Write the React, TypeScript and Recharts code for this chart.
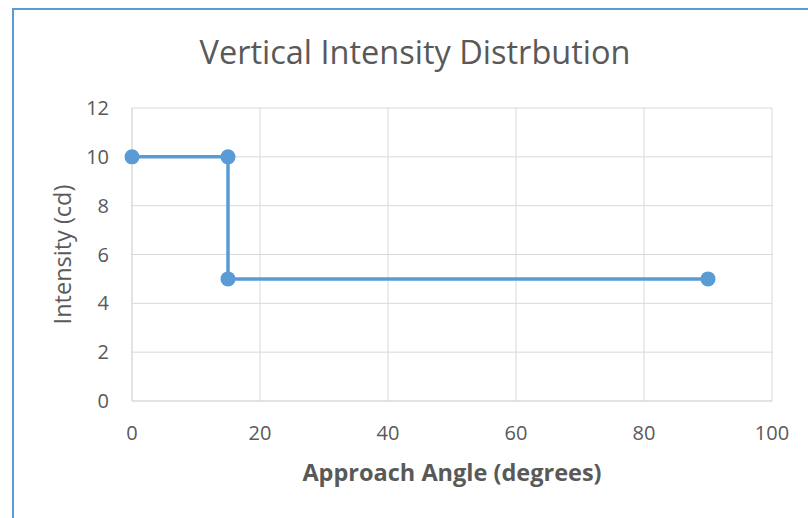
import { CartesianGrid, Label, Scatter, ScatterChart, XAxis, YAxis } from "recharts";

const angles = [0, 15, 15, 90];
const intensities = [10, 10, 5, 5];
const xTicks = [0, 20, 40, 60, 80, 100];
const yTicks = [0, 2, 4, 6, 8, 10, 12];

const data = angles.map((a, i) => ({ angle: a, intensity: intensities[i] }));

const FONT = "'Open Sans', sans-serif";
const TEXT = "#595959";

export default function App() {
  return (
    <div
      style={{
        position: "absolute",
        left: 0,
        top: 0,
        width: 808,
        height: 518,
        overflow: "hidden",
        background: "white",
        fontFamily: FONT,
      }}
    >
      <div
        style={{
          position: "absolute",
          left: 12,
          top: 8,
          width: 830,
          height: 540,
          border: "2px solid #5b9bd5",
        }}
      />
      <div
        style={{
          position: "absolute",
          left: 0,
          top: 30,
          width: 830,
          textAlign: "center",
          fontSize: 32.5,
          color: TEXT,
          lineHeight: "44px",
        }}
      >
        Vertical Intensity Distrbution
      </div>
      <div style={{ position: "absolute", left: 0, top: 0 }}>
        <ScatterChart
          width={808}
          height={518}
          margin={{ top: 108, right: 36, bottom: 0, left: 0 }}
        >
          <CartesianGrid stroke="#d9d9d9" strokeWidth={1} />
          <XAxis
            type="number"
            dataKey="angle"
            domain={[0, 100]}
            ticks={xTicks}
            height={117}
            tickLine={false}
            tickMargin={19}
            axisLine={{ stroke: "#d9d9d9" }}
            tick={{ fill: TEXT, fontSize: 20, fontFamily: FONT }}
          >
            <Label
              value="Approach Angle (degrees)"
              position="insideBottom"
              offset={37}
              style={{ fill: TEXT, fontSize: 23.5, fontWeight: "bold", fontFamily: FONT }}
            />
          </XAxis>
          <YAxis
            type="number"
            dataKey="intensity"
            domain={[0, 12]}
            ticks={yTicks}
            width={132}
            tickLine={false}
            tickMargin={17}
            axisLine={{ stroke: "#d9d9d9" }}
            tick={{ fill: TEXT, fontSize: 20, fontFamily: FONT }}
          >
            <Label
              value="Intensity (cd)"
              angle={-90}
              position="insideLeft"
              offset={63}
              style={{ fill: TEXT, fontSize: 23.5, fontFamily: FONT, textAnchor: "middle" }}
            />
          </YAxis>
          <Scatter
            data={data}
            fill="#5b9bd5"
            line={{ stroke: "#5b9bd5", strokeWidth: 3.5 }}
            lineType="joint"
            shape={(props: any) => (
              <circle cx={props.cx} cy={props.cy} r={7.5} fill="#5b9bd5" />
            )}
            isAnimationActive={false}
          />
        </ScatterChart>
      </div>
    </div>
  );
}
